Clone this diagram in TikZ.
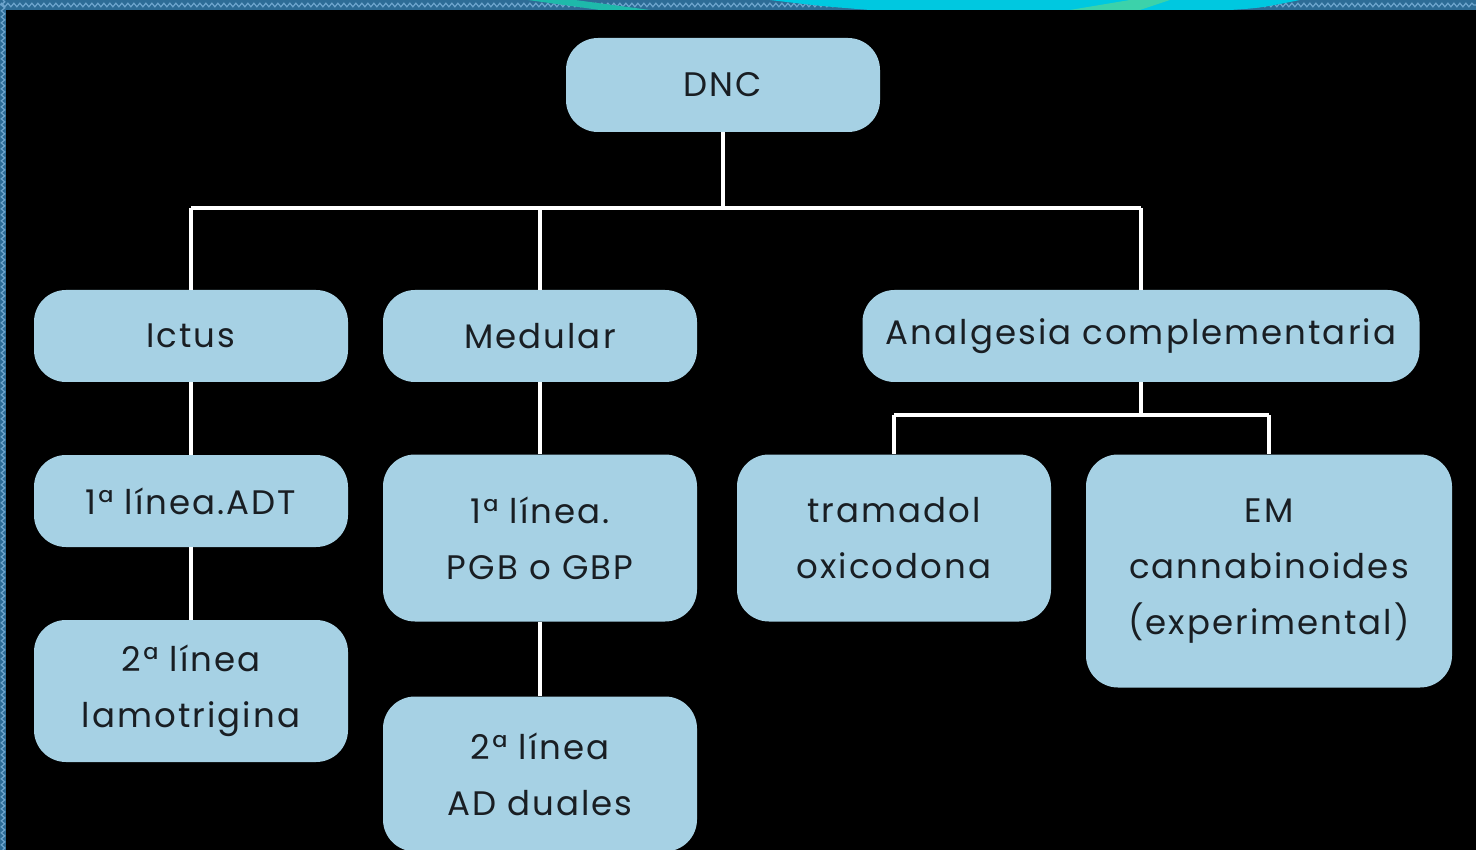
\documentclass[tikz,border=0pt]{standalone}
\usepackage{fontspec}
\setmainfont{Poppins}[LetterSpace=6]
\usetikzlibrary{decorations.pathmorphing}
\definecolor{boxfill}{RGB}{166,209,228}
\definecolor{frameblue}{RGB}{45,108,150}
\definecolor{wave}{RGB}{110,165,205}
\definecolor{cyanband}{RGB}{0,200,224}
\definecolor{tealband}{RGB}{30,185,170}
\definecolor{greenband}{RGB}{60,210,170}
\definecolor{textdark}{RGB}{25,30,35}
\tikzset{
  box/.style={fill=boxfill, rounded corners=32, text=textdark, align=center,
    font=\fontsize{34}{56}\selectfont, inner sep=0pt},
  link/.style={draw=white, line width=4},
  wavy/.style={draw=wave, line width=1.2, decorate, decoration={snake, amplitude=1.8, segment length=6}},
}
\begin{document}
\begin{tikzpicture}[x=1pt,y=-1pt]
\useasboundingbox (0,0) rectangle (1476,850);
\clip (0,0) rectangle (1476,850);
% frame
\fill[frameblue] (0,0) rectangle (1476,850);
\draw[wavy] (0,5) -- (1476,5);
\draw[wavy] (3,0) -- (3,850);
\fill[tealband] (528,0) -- (575,0) -- (650,10) -- (600,10) -- cycle;
\fill[cyanband] (770,0) -- (1300,0) .. controls (1260,8) .. (1230,10) -- (870,10) .. controls (820,6) .. (770,0) -- cycle;
\fill[greenband] (1070,10) -- (1140,10) -- (1170,0) -- (1130,0) -- cycle;
\fill[black] (6,10) rectangle (1476,850);
% nodes
\node[box, minimum width=314, minimum height=94] (dnc) at (723,85) {DNC};
\node[box, minimum width=314, minimum height=92] (ictus) at (191,336) {Ictus};
\node[box, minimum width=314, minimum height=92] (medular) at (540,336) {Medular};
\node[box, minimum width=557, minimum height=92] (analg) at (1141,336) {Analgesia complementaria};
\node[box, minimum width=314, minimum height=92] (l1) at (191,501) {1ª línea.ADT};
\node[box, minimum width=314, minimum height=142] (l2) at (191,691) {2ª línea\\lamotrigina};
\node[box, minimum width=314, minimum height=167] (m1) at (540,538) {1ª línea.\\PGB o GBP};
\node[box, minimum width=314, minimum height=155] (m2) at (540,774) {2ª línea\\AD duales};
\node[box, minimum width=314, minimum height=167] (tram) at (894,538) {tramadol\\oxicodona};
\node[box, minimum width=366, minimum height=233] (em) at (1269,571) {EM\\cannabinoides\\(experimental)};
% connectors
\coordinate (bus) at (0,208);
\coordinate (bus2) at (0,415);
\draw[link] (dnc.south) -- (dnc.south |- bus);
\draw[link] (ictus.north |- bus) -- (analg.north |- bus);
\draw[link] (ictus.north |- bus) -- (ictus.north);
\draw[link] (medular.north |- bus) -- (medular.north);
\draw[link] (analg.north |- bus) -- (analg.north);
\draw[link] (ictus.south) -- (l1.north);
\draw[link] (l1.south) -- (l2.north);
\draw[link] (medular.south) -- (m1.north);
\draw[link] (m1.south) -- (m2.north);
\draw[link] (analg.south) -- (analg.south |- bus2);
\draw[link] (tram.north |- bus2) -- (em.north |- bus2);
\draw[link] (tram.north |- bus2) -- (tram.north);
\draw[link] (em.north |- bus2) -- (em.north);
\end{tikzpicture}
\end{document}
